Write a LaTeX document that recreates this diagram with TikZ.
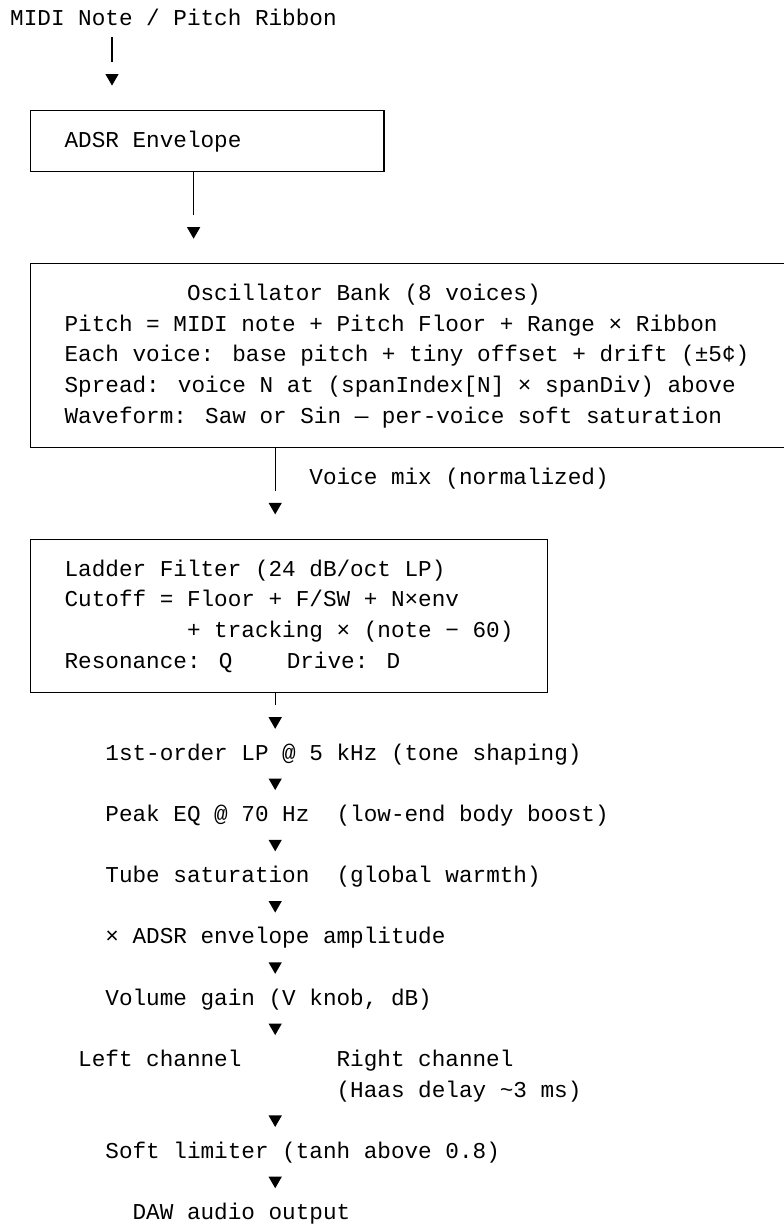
\documentclass[tikz,border=0pt]{standalone}
\usepackage{fontspec}
\newfontfamily\asciifont{Liberation Mono}
\usetikzlibrary{shapes.geometric, fit}

\tikzset{
  txt/.style={font=\asciifont\fontsize{22.67pt}{27pt}\selectfont, anchor=base west, inner sep=0pt, yshift=-6.5pt},
  stagebox/.style={draw, line width=1.3pt, inner sep=0pt},
  pointer/.style={regular polygon, regular polygon sides=3, shape border rotate=180, fill, inner sep=0pt, minimum size=15.4pt, yshift=1.9pt},
  bar/.style={line width=1.3pt, shorten >=12pt},
}

\begin{document}
\begin{tikzpicture}[x=13.6pt, y=-30.63pt, shift={(10pt,-18.5pt)}]
\useasboundingbox (-0.7353,-0.604) rectangle (56.912,39.390);

% input
\node[txt] (midi) at (0,0) {MIDI Note / Pitch Ribbon};
\node[pointer] (p0) at (7.5,2) {};

% envelope
\node[stagebox, fit={(1.5,3) (27.5,5)}] (adsr) {};
\node[txt] (adsr-t) at (4,4) {ADSR Envelope};
\node[pointer] (p1) at (13.5,7) {};

% oscillators
\node[stagebox, fit={(1.5,8) (57.5,14)}] (osc) {};
\node[txt] (osc-t) at (13,9) {Oscillator Bank (8 voices)};
\node[txt] (osc-a) at (4,10) {Pitch = MIDI note + Pitch Floor + Range × Ribbon};
\node[txt] (osc-b) at (4,11) {Each voice: base pitch + tiny offset + drift (±5¢)};
\node[txt] (osc-c) at (4,12) {Spread: voice N at (spanIndex[N] × spanDiv) above};
\node[txt] (osc-d) at (4,13) {Waveform: Saw or Sin — per-voice soft saturation};
\node[txt] (mix) at (22,15) {Voice mix (normalized)};
\node[pointer] (p2) at (19.5,16) {};

% filter
\node[stagebox, fit={(1.5,17) (39.5,22)}] (ladder) {};
\node[txt] (ladder-t) at (4,18) {Ladder Filter (24 dB/oct LP)};
\node[txt] (ladder-a) at (4,19) {Cutoff = Floor + F/SW + N×env};
\node[txt] (ladder-b) at (13,20) {+ tracking × (note − 60)};
\node[txt] (ladder-c) at (4,21) {Resonance: Q\ \ \ \ Drive: D};
\node[pointer] (p3) at (19.5,23) {};

% output chain
\node[txt] (lp) at (7,24) {1st-order LP @ 5 kHz (tone shaping)};
\node[pointer] (p4) at (19.5,25) {};
\node[txt] (peak) at (7,26) {Peak EQ @ 70 Hz\ \ (low-end body boost)};
\node[pointer] (p5) at (19.5,27) {};
\node[txt] (tube) at (7,28) {Tube saturation\ \ (global warmth)};
\node[pointer] (p6) at (19.5,29) {};
\node[txt] (amp) at (7,30) {× ADSR envelope amplitude};
\node[pointer] (p7) at (19.5,31) {};
\node[txt] (vol) at (7,32) {Volume gain (V knob, dB)};
\node[pointer] (p8) at (19.5,33) {};
\node[txt] (left) at (5,34) {Left channel};
\node[txt] (right) at (24,34) {Right channel};
\node[txt] (haas) at (24,35) {(Haas delay \textasciitilde3 ms)};
\node[pointer] (p9) at (19.5,36) {};
\node[txt] (lim) at (7,37) {Soft limiter (tanh above 0.8)};
\node[pointer] (p10) at (19.5,38) {};
\node[txt] (daw) at (9,39) {DAW audio output};

% stems
\draw[bar, shorten <=12pt] (midi.base -| p0.north) -- (p0.north);
\draw[bar] (adsr.south -| p1.north) -- (p1.north);
\draw[bar] (osc.south -| p2.north) -- (p2.north);
\draw[bar] (ladder.south -| p3.north) -- (p3.north);
\end{tikzpicture}
\end{document}
